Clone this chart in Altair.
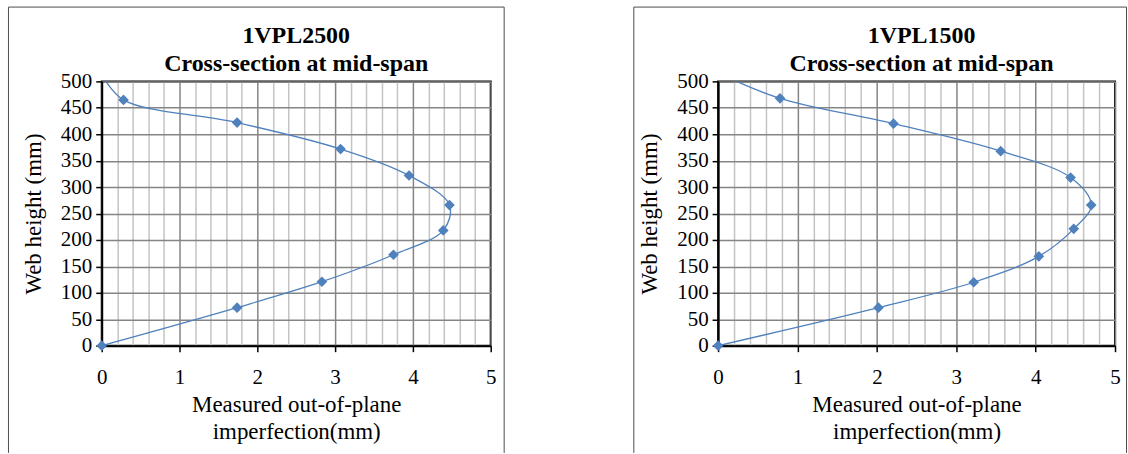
import altair as alt
import pandas as pd

# Measured out-of-plane imperfection (mm) against web height (mm).
# The last entry of each profile lies just above the 500 mm axis limit:
# it shapes the end of the smoothed curve and is clipped from view.
h_2500 = [0, 72, 121, 172, 218, 266, 322, 372, 422, 465, 513]
w_2500 = [0.0, 1.74, 2.83, 3.75, 4.39, 4.47, 3.95, 3.07, 1.74, 0.28, 0.0]

h_1500 = [0, 72, 120, 169, 221, 266, 318, 368, 420, 468, 516]
w_1500 = [0.0, 2.02, 3.22, 4.04, 4.48, 4.70, 4.44, 3.56, 2.21, 0.78, 0.0]

x_values = [round(i * 0.2, 1) for i in range(26)]   # major + minor gridlines
y_values = list(range(0, 501, 50))

SERIF = "Liberation Serif"
BLUE = "#4F81BD"
MAJOR = "#858585"
MINOR = "#c4c4c4"
IS_MAJOR = "abs(datum.value - round(datum.value)) < 1e-6"


def panel(name, widths, heights, width, height, frame, title_dx):
    df = pd.DataFrame({"w": widths, "h": heights, "idx": range(len(widths))})
    base = alt.Chart(df)

    x = alt.X(
        "w:Q",
        scale=alt.Scale(domain=[0, 5], nice=False, zero=False),
        axis=alt.Axis(
            values=x_values,
            title=["Measured out-of-plane", "imperfection(mm)"],
            labelExpr=f"{IS_MAJOR} ? format(datum.value, 'd') : ''",
            labelOverlap=False,
            labelFlush=False,
            gridColor={"condition": {"test": IS_MAJOR, "value": MAJOR}, "value": MINOR},
            tickOpacity={"condition": {"test": IS_MAJOR, "value": 1}, "value": 0},
            gridWidth=1.5,
            tickColor="black",
            tickWidth=1.5,
            tickSize=6,
            domainColor="black",
            domainWidth=2,
            labelFont=SERIF,
            labelFontSize=21,
            labelColor="black",
            labelPadding=15,
            titleFont=SERIF,
            titleFontSize=23,
            titleFontWeight="normal",
            titleColor="black",
            titleLineHeight=27,
            titlePadding=6,
        ),
    )
    y = alt.Y(
        "h:Q",
        scale=alt.Scale(domain=[0, 500], nice=False, zero=False),
        axis=alt.Axis(
            values=y_values,
            title="Web height (mm)",
            labelOverlap=False,
            labelFlush=False,
            gridColor=MAJOR,
            gridWidth=1.5,
            tickColor="black",
            tickWidth=1.5,
            tickSize=6,
            domainColor="black",
            domainWidth=2,
            labelFont=SERIF,
            labelFontSize=21,
            labelColor="black",
            labelPadding=4,
            titleFont=SERIF,
            titleFontSize=23,
            titleFontWeight="normal",
            titleColor="black",
            titlePadding=15,
        ),
    )

    curve = base.mark_line(
        color=BLUE, strokeWidth=1.3, interpolate="catmull-rom", clip=True
    ).encode(x=x, y=y, order="idx:O")

    points = (
        base.transform_filter("datum.h <= 500")
        .mark_point(shape="diamond", filled=True, size=115, color=BLUE, opacity=1)
        .encode(x=x, y=y)
    )

    one = alt.Chart(pd.DataFrame({"k": [0]}))
    heading = one.mark_text(
        font=SERIF, fontSize=24, fontWeight="bold", color="black",
        align="center", baseline="alphabetic", lineHeight=28,
    ).encode(
        x=alt.value(width / 2 + title_dx),
        y=alt.value(-38),
        text=alt.value([name, "Cross-section at mid-span"]),
    )

    left, right, top, bottom = frame
    edges = []
    edges.append(one.mark_rule(color="#4d4d4d", strokeWidth=1).encode(
        x=alt.value(left), y=alt.value(top), y2=alt.value(bottom)))
    edges.append(one.mark_rule(color="#4d4d4d", strokeWidth=1).encode(
        x=alt.value(left), x2=alt.value(right), y=alt.value(top)))
    if right < width + 15:
        edges.append(one.mark_rule(color="#4d4d4d", strokeWidth=1).encode(
            x=alt.value(right), y=alt.value(top), y2=alt.value(bottom)))

    return alt.layer(curve, points, heading, *edges).properties(width=width, height=height)


left_panel = panel("1VPL2500", w_2500, h_2500, 390, 265,
                   (-93.5, 403.5, -74.5, 372.5), 0)
right_panel = panel("1VPL1500", w_1500, h_1500, 398, 265,
                    (-84.5, 409.5, -74.5, 372.5), 5)

chart = (
    alt.hconcat(left_panel, right_panel, spacing=127)
    .properties(padding={"left": 7, "top": 5, "right": 0, "bottom": 0},
                background="white")
    .configure_view(stroke="black", strokeWidth=2)
)

chart.save("out.html", embed_options={"renderer": "svg", "actions": False})
